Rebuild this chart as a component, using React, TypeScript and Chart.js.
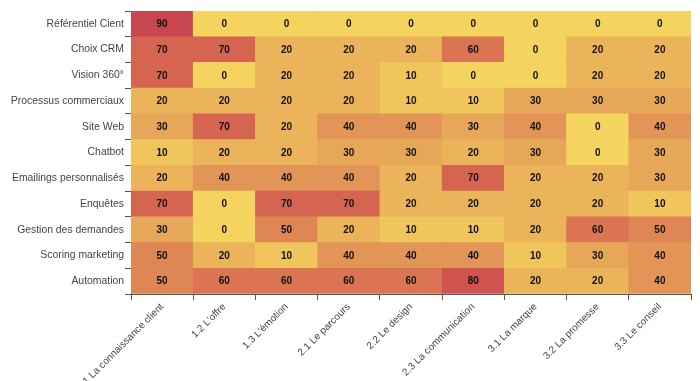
import React, { useEffect, useRef } from "react";
import { Chart, registerables } from "chart.js";

Chart.register(...registerables);

const rows = [
  "Référentiel Cient",
  "Choix CRM",
  "Vision 360°",
  "Processus commerciaux",
  "Site Web",
  "Chatbot",
  "Emailings personnalisés",
  "Enquêtes",
  "Gestion des demandes",
  "Scoring marketing",
  "Automation",
];

const columns = [
  "1.1 La connaissance client",
  "1.2 L'offre",
  "1.3 L'émotion",
  "2.1 Le parcours",
  "2.2 Le design",
  "2.3 La communication",
  "3.1 La marque",
  "3.2 La promesse",
  "3.3 Le conseil",
];

const rowReferentiel = [90, 0, 0, 0, 0, 0, 0, 0, 0];
const rowChoixCRM = [70, 70, 20, 20, 20, 60, 0, 20, 20];
const rowVision360 = [70, 0, 20, 20, 10, 0, 0, 20, 20];
const rowProcessus = [20, 20, 20, 20, 10, 10, 30, 30, 30];
const rowSiteWeb = [30, 70, 20, 40, 40, 30, 40, 0, 40];
const rowChatbot = [10, 20, 20, 30, 30, 20, 30, 0, 30];
const rowEmailings = [20, 40, 40, 40, 20, 70, 20, 20, 30];
const rowEnquetes = [70, 0, 70, 70, 20, 20, 20, 20, 10];
const rowGestion = [30, 0, 50, 20, 10, 10, 20, 60, 50];
const rowScoring = [50, 20, 10, 40, 40, 40, 10, 30, 40];
const rowAutomation = [50, 60, 60, 60, 60, 80, 20, 20, 40];

const values = [
  rowReferentiel,
  rowChoixCRM,
  rowVision360,
  rowProcessus,
  rowSiteWeb,
  rowChatbot,
  rowEmailings,
  rowEnquetes,
  rowGestion,
  rowScoring,
  rowAutomation,
];

// colour stops for the heat scale (style)
const colorStops: [number, number, number][] = [
  [244, 212, 94],
  [240, 198, 92],
  [235, 180, 90],
  [231, 167, 88],
  [226, 149, 86],
  [222, 134, 84],
  [218, 116, 82],
  [213, 101, 80],
  [207, 84, 80],
  [200, 70, 79],
];

function colorFor(v: number): string {
  const t = Math.max(0, Math.min(9, v / 10));
  const i = Math.floor(t);
  const j = Math.min(9, i + 1);
  const f = t - i;
  const a = colorStops[i];
  const b = colorStops[j];
  const c = a.map((x, k) => Math.round(x + (b[k] - x) * f));
  return `rgb(${c[0]},${c[1]},${c[2]})`;
}

const FONT = "'Liberation Sans', Arial, Helvetica, sans-serif";

const valueLabels = {
  id: "valueLabels",
  afterDatasetsDraw(chart: any) {
    const ctx = chart.ctx;
    ctx.save();
    ctx.font = `bold 10px ${FONT}`;
    ctx.fillStyle = "#111";
    ctx.textAlign = "center";
    ctx.textBaseline = "middle";
    chart.data.datasets.forEach((ds: any, di: number) => {
      const meta = chart.getDatasetMeta(di);
      meta.data.forEach((el: any, i: number) => {
        const { x, y, base } = el.getProps(["x", "y", "base"], true);
        ctx.fillText(String(ds.values[i]), x, (y + base) / 2 + 0.5);
      });
    });
    ctx.restore();
  },
};

export default function App() {
  const ref = useRef<HTMLCanvasElement | null>(null);

  useEffect(() => {
    if (!ref.current) return;
    const n = rows.length;
    const datasets = rows
      .map((name, r) => ({
        label: name,
        data: columns.map(() => 1),
        values: values[r],
        backgroundColor: values[r].map(colorFor),
        borderWidth: 0,
        barPercentage: 1,
        categoryPercentage: 1,
        yAxisID: "y",
      }))
      .reverse();

    const chart = new Chart(ref.current, {
      type: "bar",
      data: { labels: columns, datasets: datasets as any },
      plugins: [valueLabels],
      options: {
        animation: false,
        responsive: false,
        devicePixelRatio: 1,
        layout: { padding: { top: 11, right: 9, left: 0, bottom: 0 } },
        plugins: { legend: { display: false }, tooltip: { enabled: false } },
        scales: {
          x: {
            type: "category",
            stacked: true,
            offset: true,
            grid: {
              offset: true,
              drawOnChartArea: false,
              tickLength: 6,
              color: "#555",
            },
            border: { color: "#555", width: 1 },
            ticks: {
              minRotation: 45,
              maxRotation: 45,
              padding: 1,
              autoSkip: false,
              color: "#444",
              font: { family: FONT, size: 10 },
            },
            afterFit(scale: any) {
              scale.paddingLeft = 0;
              scale.paddingRight = 0;
              scale.height = 87;
            },
          },
          y: {
            type: "linear",
            position: "left",
            stacked: true,
            min: 0,
            max: n,
            weight: 0,
            grid: {
              drawOnChartArea: false,
              tickLength: 6,
              color: "#555",
            },
            border: { color: "#555", width: 1 },
            ticks: {
              stepSize: 1,
              callback: () => "",
              padding: 0,
            },
            afterFit(scale: any) {
              scale.width = 7;
            },
          },
          y2: {
            type: "linear",
            position: "left",
            min: 0,
            max: n,
            weight: 1,
            grid: { display: false, drawTicks: false, tickLength: 0 },
            border: { display: false },
            afterBuildTicks(scale: any) {
              scale.ticks = rows.map((_, i) => ({ value: n - 0.5 - i }));
            },
            ticks: {
              autoSkip: false,
              padding: 0,
              color: "#444",
              font: { family: FONT, size: 10.4 },
              callback: (v: any) => rows[Math.round(n - 0.5 - Number(v))],
            },
            afterFit(scale: any) {
              scale.width = 124;
            },
          },
        },
      } as any,
    });
    return () => chart.destroy();
  }, []);

  return (
    <div style={{ position: "fixed", left: 0, top: 0, width: 700, height: 381, background: "#fff" }}>
      <canvas ref={ref} width={700} height={381} style={{ display: "block", width: 700, height: 381 }} />
    </div>
  );
}
